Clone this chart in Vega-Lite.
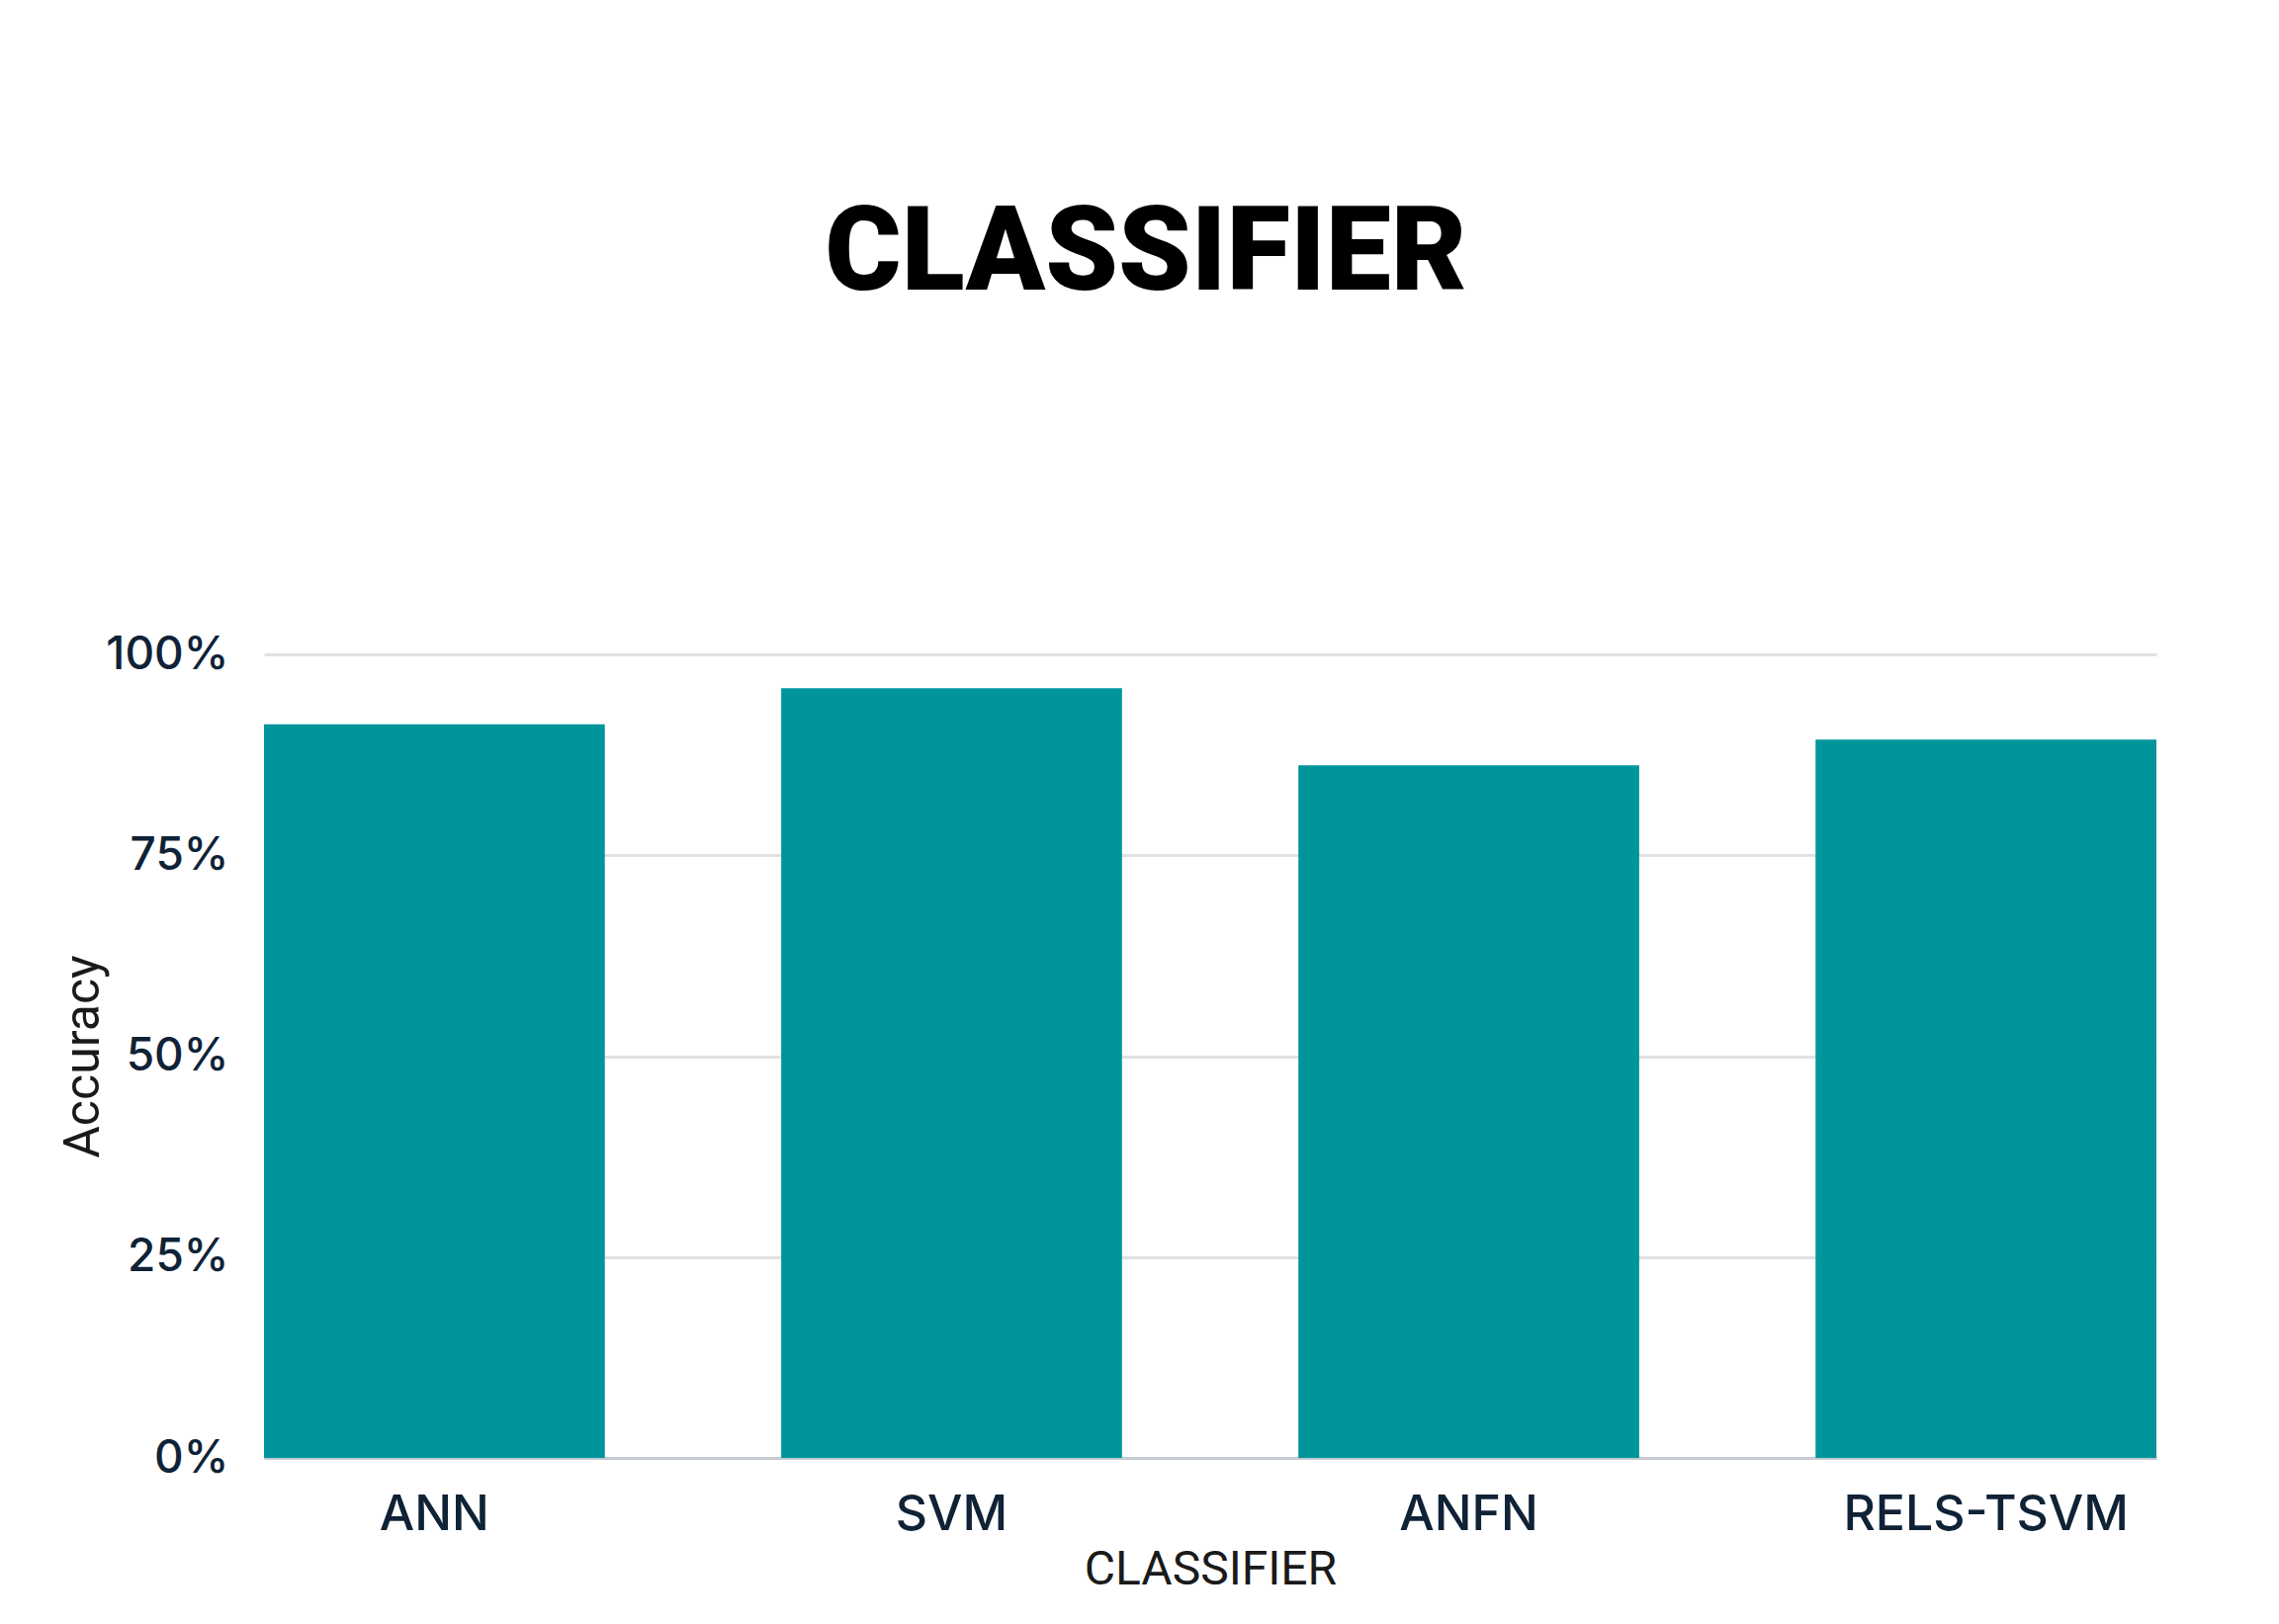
{
  "$schema": "https://vega.github.io/schema/vega-lite/v6.json",
  "autosize": {"type": "none"},
  "width": 1914,
  "height": 813,
  "padding": {"left": 267, "top": 662, "right": 124, "bottom": 168},
  "background": "white",
  "title": {
    "text": "CLASSIFIER",
    "font": "Roboto",
    "fontWeight": 900,
    "fontSize": 118,
    "color": "#000000",
    "anchor": "middle",
    "frame": "group",
    "baseline": "alphabetic",
    "offset": 228,
    "dx": -65
  },
  "data": {
    "values": [
      {"classifier": "ANN", "accuracy": 0.913},
      {"classifier": "SVM", "accuracy": 0.958},
      {"classifier": "ANFN", "accuracy": 0.862},
      {"classifier": "RELS-TSVM", "accuracy": 0.894}
    ]
  },
  "mark": {"type": "bar", "color": "#00959b"},
  "encoding": {
    "x": {
      "field": "classifier",
      "type": "nominal",
      "sort": null,
      "scale": {"paddingInner": 0.341, "paddingOuter": 0},
      "axis": {
        "title": "CLASSIFIER",
        "titleFont": "Roboto",
        "titleFontWeight": "normal",
        "titleFontSize": 48,
        "titleColor": "#1a1a1a",
        "titlePadding": 7,
        "labelFont": "Inter",
        "labelFontWeight": 500,
        "labelFontSize": 50,
        "labelColor": "#0f2236",
        "labelAngle": 0,
        "labelPadding": 32,
        "labelLimit": 0,
        "ticks": false,
        "domainColor": "#c5cad3",
        "domainWidth": 3,
        "grid": false
      }
    },
    "y": {
      "field": "accuracy",
      "type": "quantitative",
      "scale": {"domain": [0, 1], "nice": false},
      "axis": {
        "title": "Accuracy",
        "titleFont": "Roboto",
        "titleFontWeight": "normal",
        "titleFontSize": 50,
        "titleColor": "#1a1a1a",
        "titlePadding": -3,
        "values": [0, 0.25, 0.5, 0.75, 1],
        "format": ".0%",
        "labelFont": "Inter",
        "labelFontWeight": 500,
        "labelFontSize": 46,
        "labelColor": "#0f2236",
        "labelPadding": 36,
        "ticks": false,
        "domain": false,
        "grid": true,
        "gridColor": "#dfe1e3",
        "gridWidth": 3
      }
    }
  },
  "config": {"view": {"stroke": null}}
}
